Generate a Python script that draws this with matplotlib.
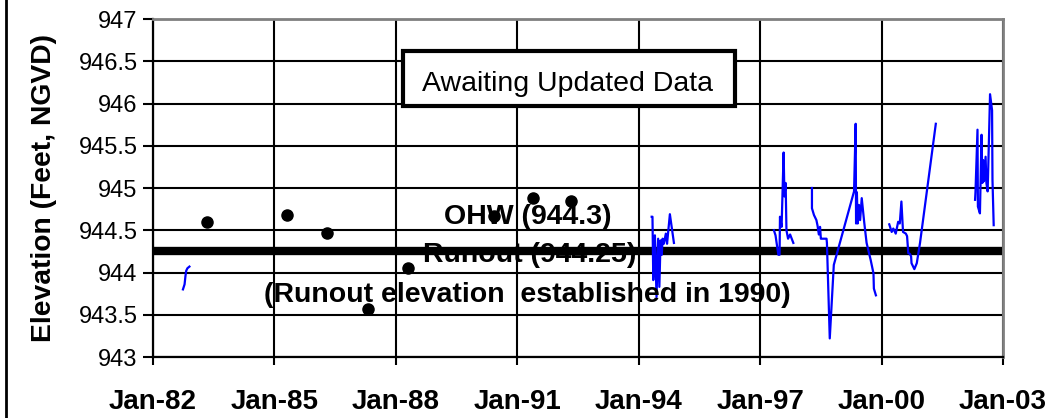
import matplotlib
matplotlib.use("Agg")
import matplotlib.pyplot as plt
import matplotlib.patches as patches
from matplotlib.lines import Line2D

plt.rcParams['font.family'] = ['Liberation Sans', 'DejaVu Sans']

# survey points (decimal year, elevation)
survey_x = [1983.33, 1985.31, 1986.30, 1987.30, 1988.30, 1990.43, 1991.40, 1992.33]
survey_y = [944.60, 944.68, 944.47, 943.57, 944.05, 944.67, 944.88, 944.85]

# continuous gauge records
seg82_x = [1982.74, 1982.76, 1982.78, 1982.80, 1982.82, 1982.85, 1982.90]
seg82_y = [943.80, 943.83, 943.86, 943.95, 944.02, 944.05, 944.07]

seg94_x = [1994.32, 1994.34, 1994.36, 1994.40, 1994.44, 1994.48, 1994.51, 1994.54,
           1994.57, 1994.59, 1994.62, 1994.67, 1994.70, 1994.77, 1994.87]
seg94_y = [944.66, 944.66, 943.91, 944.44, 943.71, 944.40, 943.83, 944.38,
           944.21, 944.40, 944.34, 944.46, 944.34, 944.69, 944.35]

seg97_x = [1997.34, 1997.38, 1997.41, 1997.45, 1997.48, 1997.49, 1997.53, 1997.58,
           1997.60, 1997.63, 1997.65, 1997.69, 1997.74, 1997.82]
seg97_y = [944.50, 944.44, 944.34, 944.21, 944.21, 944.66, 944.54, 945.42,
           944.90, 945.06, 944.50, 944.40, 944.45, 944.35]

seg98_x = [1998.28, 1998.28, 1998.33, 1998.39, 1998.42, 1998.45, 1998.48, 1998.50,
           1998.52, 1998.64, 1998.65, 1998.72, 1998.82, 1999.32, 1999.36, 1999.37,
           1999.39, 1999.41, 1999.44, 1999.47, 1999.51, 1999.57, 1999.63, 1999.73,
           1999.80, 1999.81, 1999.86]
seg98_y = [945.00, 944.76, 944.68, 944.62, 944.55, 944.45, 944.54, 944.40,
           944.40, 944.40, 944.35, 943.22, 944.09, 944.96, 945.76, 944.58,
           944.95, 944.58, 944.80, 944.62, 944.88, 944.60, 944.35, 944.15,
           943.99, 943.81, 943.73]

seg00_x = [2000.19, 2000.25, 2000.29, 2000.35, 2000.41, 2000.45, 2000.49, 2000.53,
           2000.60, 2000.63, 2000.66, 2000.70, 2000.73, 2000.74, 2000.81, 2000.87,
           2000.95, 2001.34]
seg00_y = [944.57, 944.48, 944.52, 944.46, 944.60, 944.58, 944.84, 944.48,
           944.46, 944.43, 944.23, 944.22, 944.19, 944.11, 944.04, 944.11,
           944.35, 945.76]

seg02_x = [2002.31, 2002.32, 2002.37, 2002.38, 2002.43, 2002.47, 2002.49, 2002.51,
           2002.53, 2002.57, 2002.59, 2002.62, 2002.63, 2002.68, 2002.73, 2002.74,
           2002.77]
seg02_y = [944.86, 944.95, 945.69, 944.78, 944.70, 945.63, 945.06, 945.33,
           945.08, 945.37, 945.06, 944.96, 945.13, 946.11, 945.92, 945.10,
           944.56]

runout = 944.25

year_ticks = [1982, 1985, 1988, 1991, 1994, 1997, 2000, 2003]
year_labels = ['Jan-82', 'Jan-85', 'Jan-88', 'Jan-91', 'Jan-94', 'Jan-97', 'Jan-00', 'Jan-03']
elev_ticks = [943, 943.5, 944, 944.5, 945, 945.5, 946, 946.5, 947]
elev_labels = ['943', '943.5', '944', '944.5', '945', '945.5', '946', '946.5', '947']

fig = plt.figure(figsize=(10.57, 4.18), dpi=100)
ax = fig.add_axes([0.14475, 0.14593, 0.80416, 0.80861])

ax.set_xlim(1982, 2003)
ax.set_ylim(943, 947)
ax.set_xticks(year_ticks)
ax.set_xticklabels(year_labels, fontsize=20, fontweight='bold')
ax.set_yticks(elev_ticks)
ax.set_yticklabels(elev_labels, fontsize=17)
ax.tick_params(axis='x', direction='out', length=6, width=1.5, pad=17)
ax.tick_params(axis='y', direction='out', length=7, width=1.5, pad=4)

ax.grid(True, color='black', linewidth=1.5, zorder=0)
ax.set_axisbelow(True)

for s in ['left', 'bottom']:
    ax.spines[s].set_color('black')
    ax.spines[s].set_linewidth(1.6)
for s in ['top', 'right']:
    ax.spines[s].set_color('#808080')
    ax.spines[s].set_linewidth(2)

ax.axhline(runout, color='black', linewidth=6, zorder=2)

segments = [(seg82_x, seg82_y), (seg94_x, seg94_y), (seg97_x, seg97_y),
            (seg98_x, seg98_y), (seg00_x, seg00_y), (seg02_x, seg02_y)]
for sx, sy in segments:
    ax.plot(sx, sy, color='#0000FF', linewidth=1.6, zorder=3)

ax.plot(survey_x, survey_y, 'o', color='black', markersize=8, zorder=3)

ax.set_ylabel('Elevation (Feet, NGVD)', fontsize=20.3, fontweight='bold', va='center')
ax.yaxis.set_label_coords(-0.128, 0.5)

ax.text(1991.26, 944.66, 'OHW (944.3)', fontsize=20.5, fontweight='bold',
        ha='center', va='center', zorder=4)
ax.text(1991.30, 944.21, 'Runout (944.25)', fontsize=20.5, fontweight='bold',
        ha='center', va='center', zorder=4)
ax.text(1991.26, 943.73, '(Runout elevation  established in 1990)', fontsize=20.5,
        fontweight='bold', ha='center', va='center', zorder=4)

box = patches.Rectangle((0.294, 0.743), 0.391, 0.163, transform=ax.transAxes,
                        facecolor='white', edgecolor='black', linewidth=3, zorder=5)
ax.add_patch(box)
ax.text(0.488, 0.808, 'Awaiting Updated Data', transform=ax.transAxes, fontsize=20.5,
        ha='center', va='center', zorder=6)

# outer chart frame (only the left edge is visible)
fig.add_artist(Line2D([6 / 1057, 6 / 1057], [0, 1], color='black', linewidth=2))

fig.savefig('out.png', dpi=100)
